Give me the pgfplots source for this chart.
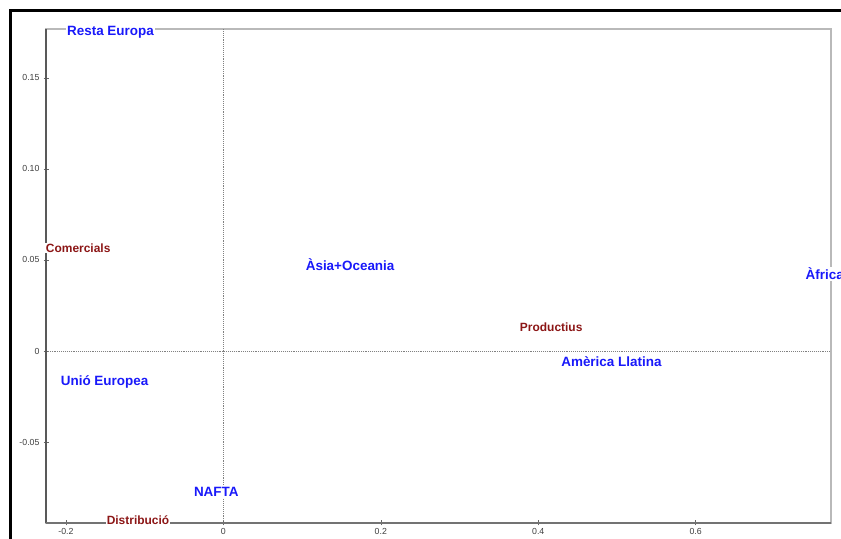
\documentclass[border=0pt]{standalone}
\usepackage{fontspec}
\setmainfont{Liberation Sans}
\usepackage{pgfplots}
\pgfplotsset{compat=1.18}
\definecolor{rowblue}{RGB}{25,25,250}
\definecolor{coldred}{RGB}{140,22,22}
\begin{document}
\begin{tikzpicture}[x=1bp,y=1bp]
\useasboundingbox (0,0) rectangle (841,539);
\fill[white] (0,0) rectangle (841,539);
\begin{axis}[
  at={(46bp,16bp)}, anchor=south west,
  scale only axis, width=785bp, height=494bp,
  xmin=-0.2254, xmax=0.772, ymin=-0.0945, ymax=0.1769,
  clip=false,
  axis line style={gray!55, line width=1.3bp},
  xtick={-0.2,0,0.2,0.4,0.6}, xticklabels={-0.2,0,0.2,0.4,0.6},
  ytick={-0.05,0,0.05,0.1,0.15}, yticklabels={-0.05,0,0.05,0.10,0.15},
  xtick pos=bottom, ytick pos=left,
  tick align=center, major tick length=5bp,
  tick style={black!60, line width=0.6bp},
  /pgf/number format/assume math mode=true,
  ticklabel style={font=\fontsize{8.8}{10}\selectfont, text=black!75},
  xticklabel style={yshift=1bp},
  yticklabel style={xshift=-0.5bp},
]
\addplot[black!50, densely dotted, line width=0.9bp] coordinates {(0,-0.0945) (0,0.1769)};
\addplot[black!50, densely dotted, line width=0.9bp] coordinates {(-0.2254,0) (0.772,0)};
\draw[black!65, line width=1.2bp] (rel axis cs:0,0) -- (rel axis cs:0,1);
\draw[black!55, line width=1.2bp] (rel axis cs:0,0) -- (rel axis cs:1,0);
\addplot[draw=none, mark=none, nodes near coords, point meta=explicit symbolic,
  every node near coord/.append style={anchor=center, fill=white, inner sep=1bp,
    text=rowblue, font=\fontsize{13.5}{15}\selectfont\bfseries}]
  coordinates {
  (-0.1435,0.1753)[Resta Europa]
  (0.161,0.0473)[Àsia+Oceania]
  (0.764,0.0423)[Àfrica]
  (0.493,-0.0058)[Amèrica Llatina]
  (-0.151,-0.0168)[Unió Europea]
  (-0.009,-0.0775)[NAFTA]
  };
\addplot[draw=none, mark=none, nodes near coords, point meta=explicit symbolic,
  every node near coord/.append style={anchor=center, fill=white, inner sep=1bp,
    text=coldred, font=\fontsize{12}{14}\selectfont\bfseries}]
  coordinates {
  (-0.1845,0.0566)[Comercials]
  (0.4165,0.0132)[Productius]
  (-0.1085,-0.0929)[Distribució]
  };
\end{axis}
\draw[black, line width=3bp] (10,0) -- (10,528) -- (841,528);
\end{tikzpicture}
\end{document}
